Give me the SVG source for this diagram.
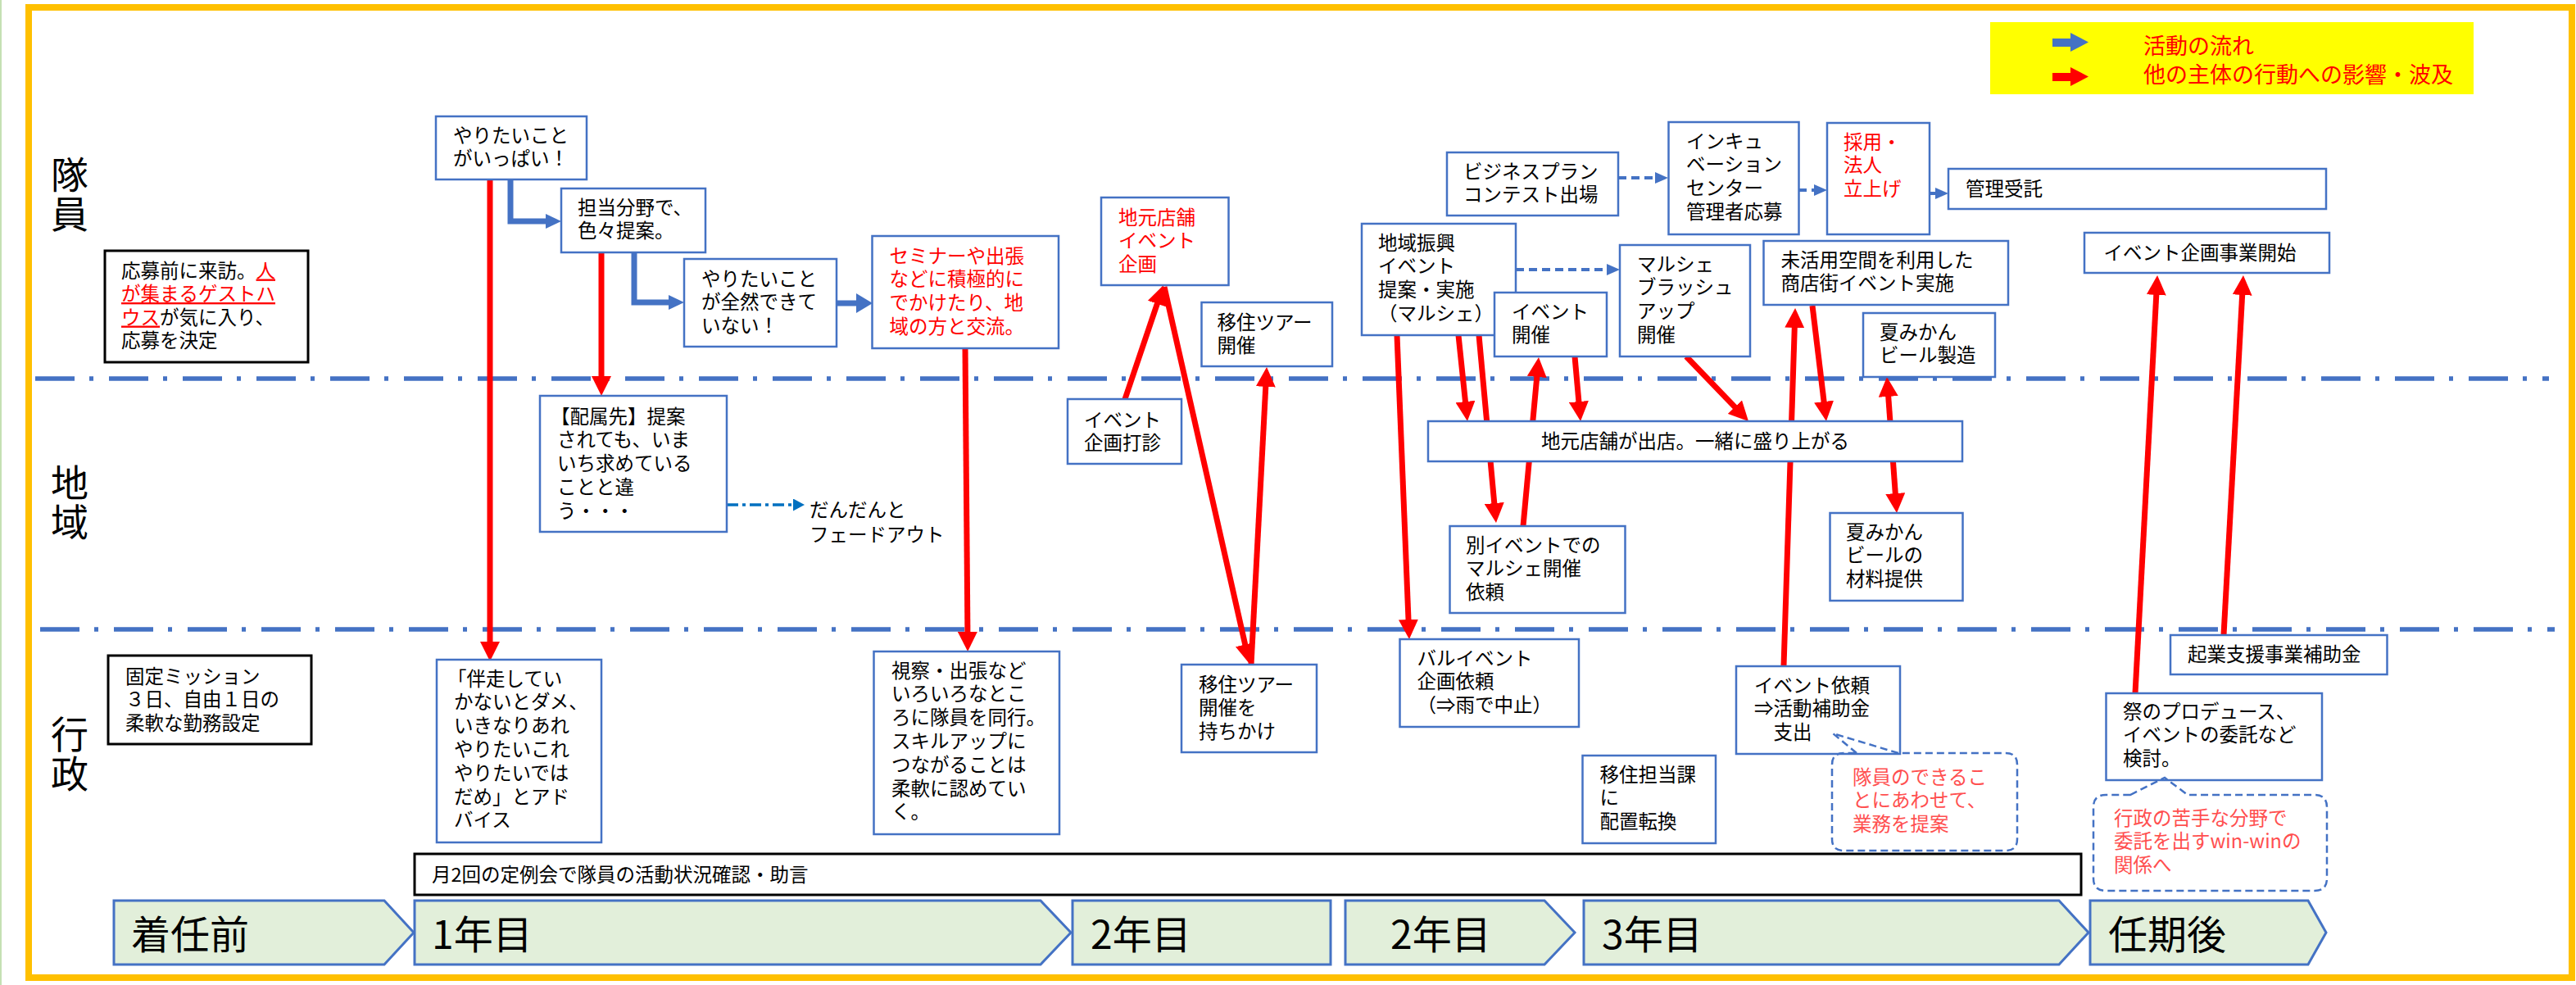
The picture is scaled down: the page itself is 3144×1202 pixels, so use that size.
<svg xmlns="http://www.w3.org/2000/svg" width="3144" height="1202" viewBox="0 0 3144 1202">
<style>
.t{font-family:"Noto Sans CJK JP","Noto Sans CJK SC",sans-serif;font-size:23.5px;fill:#000}
.rd{fill:#FF0000}
.cr{fill:#FF4F4F}
.big{font-family:"Noto Sans CJK JP","Noto Sans CJK SC",sans-serif;font-size:48px;fill:#000}
.lane{font-family:"Noto Sans CJK JP","Noto Sans CJK SC",sans-serif;font-size:46px;fill:#000;writing-mode:vertical-rl;letter-spacing:2px}
.leg{font-family:"Noto Sans CJK JP","Noto Sans CJK SC",sans-serif;font-size:27px;fill:#FF0000}
.box{fill:#fff;stroke:#4472C4;stroke-width:2.5}
.bbox{fill:#fff;stroke:#000;stroke-width:3}
.chev{fill:#E2EFDA;stroke:#4472C4;stroke-width:3}
.lanel{stroke:#4472C4;stroke-width:5.5;stroke-dasharray:48 18 5 19;fill:none}
.red{stroke:#FF0000;stroke-width:7;fill:none}
.blu{stroke:#4472C4;stroke-width:7;fill:none;stroke-linejoin:miter}
.dsh{stroke:#4472C4;stroke-width:4;stroke-dasharray:10 6;fill:none}
.call{fill:none;stroke:#4472C4;stroke-width:2.5;stroke-dasharray:9 5}
.ul{text-decoration:underline}
</style>
<defs>
<marker id="ra" markerUnits="userSpaceOnUse" markerWidth="24" markerHeight="24" viewBox="0 0 24 24" refX="10" refY="12" orient="auto-start-reverse"><path d="M0,0 L24,12 L0,24 z" fill="#FF0000"/></marker>
<marker id="ba" markerUnits="userSpaceOnUse" markerWidth="19" markerHeight="18" viewBox="0 0 19 18" refX="5" refY="9" orient="auto"><path d="M0,0 L19,9 L0,18 z" fill="#4472C4"/></marker>
<marker id="ba2" markerUnits="userSpaceOnUse" markerWidth="20" markerHeight="24" viewBox="0 0 20 24" refX="6" refY="12" orient="auto"><path d="M0,0 L20,12 L0,24 z" fill="#4472C4"/></marker>
<marker id="da" markerUnits="userSpaceOnUse" markerWidth="16" markerHeight="14" viewBox="0 0 16 14" refX="2" refY="7" orient="auto"><path d="M0,0 L16,7 L0,14 z" fill="#4472C4"/></marker>
<marker id="dda" markerUnits="userSpaceOnUse" markerWidth="14" markerHeight="15" viewBox="0 0 14 15" refX="2" refY="7.5" orient="auto"><path d="M0,0 L14,7.5 L0,15 z" fill="#0070C0"/></marker>
</defs>
<rect width="3144" height="1202" fill="#fff"/>
<line x1="1" y1="0" x2="1" y2="1202" stroke="#C5E0B4" stroke-width="2"/>
<rect x="35" y="9" width="3104" height="1184" fill="none" stroke="#FFC000" stroke-width="8"/>

<g id="lanes">
<line class="lanel" x1="43" y1="462" x2="3111" y2="462"/>
<line class="lanel" x1="49" y1="768" x2="3118" y2="768"/>
<text class="lane" x="85" y="190">隊員</text>
<text class="lane" x="85" y="566">地域</text>
<text class="lane" x="85" y="873">行政</text>
</g>

<g id="legend">
<rect x="2429" y="27" width="590" height="88" fill="#FFFF00"/>
<polygon points="2505,47 2527,47 2527,40 2549,51.5 2527,63 2527,57 2505,57" fill="#4472C4"/>
<polygon points="2505,89 2527,89 2527,82 2549,93.5 2527,105 2527,99 2505,99" fill="#FF0000"/>
<text class="leg" x="2616" y="66">活動の流れ</text>
<text class="leg" x="2616" y="101">他の主体の行動への影響・波及</text>
</g>

<g id="timeline">
<path class="chev" d="M139,1099 L469,1099 L505,1138 L469,1177 L139,1177 Z"/>
<text class="big" x="160" y="1158">着任前</text>
<path class="chev" d="M506,1099 L1270,1099 L1307,1138 L1270,1177 L506,1177 Z"/>
<text class="big" x="527" y="1158">1年目</text>
<rect class="chev" x="1309" y="1099" width="315" height="78"/>
<text class="big" x="1331" y="1158">2年目</text>
<path class="chev" d="M1642,1099 L1885,1099 L1922,1138 L1885,1177 L1642,1177 Z"/>
<text class="big" x="1697" y="1158">2年目</text>
<path class="chev" d="M1933,1099 L2513,1099 L2549,1138 L2513,1177 L1933,1177 Z"/>
<text class="big" x="1955" y="1158">3年目</text>
<path class="chev" d="M2551,1099 L2817,1099 L2839,1138 L2817,1177 L2551,1177 Z"/>
<text class="big" x="2573" y="1158">任期後</text>
</g>

<g id="meeting">
<rect class="bbox" x="506" y="1042" width="2034" height="50"/>
<text class="t" x="527" y="1075.5">月2回の定例会で隊員の活動状況確認・助言</text>
</g>

<g id="connectors">
<path class="blu" d="M623,219 V270 H671" marker-end="url(#ba)"/>
<path class="blu" d="M774,308 V369 H821" marker-end="url(#ba)"/>
<path class="blu" d="M1021,370 H1051" stroke-width="8" marker-end="url(#ba2)"/>
<line class="red" x1="598" y1="219" x2="598" y2="793" marker-end="url(#ra)"/>
<line class="red" x1="734" y1="308" x2="734" y2="469" marker-end="url(#ra)"/>
<line class="red" x1="1178" y1="425" x2="1181" y2="781" marker-end="url(#ra)"/>
<line class="red" x1="1373" y1="487" x2="1415.5" y2="361.3" marker-end="url(#ra)"/>
<line class="red" x1="1421" y1="350" x2="1521.9" y2="796.3" marker-end="url(#ra)"/>
<line class="red" x1="1527" y1="811" x2="1545.3" y2="462" marker-end="url(#ra)"/>
<line class="red" x1="1705" y1="409" x2="1719.4" y2="766" marker-end="url(#ra)"/>
<line class="red" x1="1780" y1="409" x2="1789.5" y2="500" marker-end="url(#ra)"/>
<line class="red" x1="1805" y1="409" x2="1824.7" y2="624" marker-end="url(#ra)"/>
<line class="red" x1="1859" y1="642" x2="1876.7" y2="450" marker-end="url(#ra)"/>
<line class="red" x1="1922" y1="435" x2="1927.8" y2="500" marker-end="url(#ra)"/>
<line class="red" x1="2058" y1="435" x2="2124.3" y2="503.9" marker-end="url(#ra)"/>
<line class="red" x1="2177" y1="813" x2="2190.6" y2="390" marker-end="url(#ra)"/>
<line class="red" x1="2212" y1="373" x2="2227.3" y2="500" marker-end="url(#ra)"/>
<line class="red" x1="2304" y1="474" x2="2314" y2="612" marker-start="url(#ra)" marker-end="url(#ra)"/>
<line class="red" x1="2606" y1="846" x2="2632.3" y2="350" marker-end="url(#ra)"/>
<line class="red" x1="2714" y1="775" x2="2737.2" y2="350" marker-end="url(#ra)"/>
<line class="dsh" x1="1975" y1="217" x2="2022" y2="217" marker-end="url(#da)"/>
<line class="dsh" x1="2195" y1="232" x2="2216" y2="232" marker-end="url(#da)"/>
<line class="dsh" x1="2355" y1="236" x2="2364" y2="236" marker-end="url(#da)"/>
<line class="dsh" x1="1850" y1="329" x2="1963" y2="329" marker-end="url(#da)"/>
<line x1="887" y1="616" x2="970" y2="616" stroke="#0070C0" stroke-width="3.5" stroke-dasharray="14 5 4 5" marker-end="url(#dda)"/>
</g>

<g id="n-e"><rect class="bbox" x="128" y="306" width="248" height="136"/>
<text class="t"><tspan x="148" y="338.5">応募前に来訪。<tspan class="rd ul">人</tspan></tspan><tspan x="148" y="367" class="rd ul">が集まるゲストハ</tspan><tspan x="148" y="395.5"><tspan class="rd ul">ウス</tspan>が気に入り、</tspan><tspan x="148" y="424">応募を決定</tspan></text></g>

<g id="n-a"><rect class="box" x="532" y="142" width="184" height="77"/>
<text class="t"><tspan x="553" y="173.5">やりたいこと</tspan><tspan x="553" y="202">がいっぱい！</tspan></text></g>

<g id="n-b"><rect class="box" x="685" y="230" width="176" height="78"/>
<text class="t"><tspan x="705" y="261.5">担当分野で、</tspan><tspan x="705" y="290.3">色々提案。</tspan></text></g>

<g id="n-c"><rect class="box" x="835" y="316" width="186" height="107"/>
<text class="t"><tspan x="856" y="348.5">やりたいこと</tspan><tspan x="856" y="377.3">が全然できて</tspan><tspan x="856" y="406.1">いない！</tspan></text></g>

<g id="n-d"><rect class="box" x="1064.5" y="288" width="227.5" height="137"/>
<text class="t rd"><tspan x="1085.5" y="320.5">セミナーや出張</tspan><tspan x="1085.5" y="349.3">などに積極的に</tspan><tspan x="1085.5" y="378.1">でかけたり、地</tspan><tspan x="1085.5" y="406.9">域の方と交流。</tspan></text></g>

<g id="n-f"><rect class="box" x="659" y="483" width="228" height="166"/>
<text class="t"><tspan x="672" y="516.5">【配属先】提案</tspan><tspan x="680" y="545.3">されても、いま</tspan><tspan x="680" y="574.1">いち求めている</tspan><tspan x="680" y="602.9">ことと違</tspan><tspan x="680" y="631.7">う・・・</tspan></text></g>

<g id="n-fade"><text class="t"><tspan x="988" y="630.5">だんだんと</tspan><tspan x="988" y="660.5">フェードアウト</tspan></text></g>

<g id="n-g"><rect class="bbox" x="132" y="800" width="248" height="108"/>
<text class="t"><tspan x="153" y="833.5">固定ミッション</tspan><tspan x="153" y="862.3">３日、自由１日の</tspan><tspan x="153" y="891.1">柔軟な勤務設定</tspan></text></g>

<g id="n-h"><rect class="box" x="533" y="805" width="201" height="223"/>
<text class="t"><tspan x="546" y="836.5">「伴走してい</tspan><tspan x="554" y="865.3">かないとダメ、</tspan><tspan x="554" y="894.1">いきなりあれ</tspan><tspan x="554" y="922.9">やりたいこれ</tspan><tspan x="554" y="951.7">やりたいでは</tspan><tspan x="554" y="980.5">だめ」とアド</tspan><tspan x="554" y="1009.3">バイス</tspan></text></g>

<g id="n-i"><rect class="box" x="1066.5" y="795" width="226.5" height="223"/>
<text class="t"><tspan x="1088" y="826.5">視察・出張など</tspan><tspan x="1088" y="855.3">いろいろなとこ</tspan><tspan x="1088" y="884.1">ろに隊員を同行。</tspan><tspan x="1088" y="912.9">スキルアップに</tspan><tspan x="1088" y="941.7">つながることは</tspan><tspan x="1088" y="970.5">柔軟に認めてい</tspan><tspan x="1088" y="999.3">く。</tspan></text></g>

<g id="n-j"><rect class="box" x="1344" y="241" width="155.5" height="107"/>
<text class="t rd"><tspan x="1365" y="273.5">地元店舗</tspan><tspan x="1365" y="302.3">イベント</tspan><tspan x="1365" y="331.1">企画</tspan></text></g>

<g id="n-k"><rect class="box" x="1466.5" y="369" width="159.5" height="78"/>
<text class="t"><tspan x="1485.5" y="401.5">移住ツアー</tspan><tspan x="1485.5" y="430.3">開催</tspan></text></g>

<g id="n-l"><rect class="box" x="1303" y="487" width="139" height="79"/>
<text class="t"><tspan x="1323" y="520.5">イベント</tspan><tspan x="1323" y="548.5">企画打診</tspan></text></g>

<g id="n-m"><rect class="box" x="1442" y="811" width="165" height="107"/>
<text class="t"><tspan x="1463" y="843.5">移住ツアー</tspan><tspan x="1463" y="872.3">開催を</tspan><tspan x="1463" y="901.1">持ちかけ</tspan></text></g>

<g id="n-n"><rect class="box" x="1766" y="186" width="209" height="77"/>
<text class="t"><tspan x="1786" y="217.5">ビジネスプラン</tspan><tspan x="1786" y="246.3">コンテスト出場</tspan></text></g>

<g id="n-o"><rect class="box" x="2036.5" y="149" width="159" height="137"/>
<text class="t"><tspan x="2058" y="180.5">インキュ</tspan><tspan x="2058" y="209.3">ベーション</tspan><tspan x="2058" y="238.1">センター</tspan><tspan x="2058" y="266.9">管理者応募</tspan></text></g>

<g id="n-p"><rect class="box" x="2230" y="150" width="125" height="136"/>
<text class="t rd"><tspan x="2250" y="181.5">採用・</tspan><tspan x="2250" y="210.3">法人</tspan><tspan x="2250" y="239.1">立上げ</tspan></text></g>

<g id="n-q"><rect class="box" x="2378" y="206" width="461" height="49"/>
<text class="t" x="2399" y="238.5">管理受託</text></g>

<g id="n-r"><rect class="box" x="1662" y="273" width="188" height="136"/>
<text class="t"><tspan x="1682" y="304.5">地域振興</tspan><tspan x="1682" y="333.3">イベント</tspan><tspan x="1682" y="362.1">提案・実施</tspan><tspan x="1682" y="390.9">（マルシェ）</tspan></text></g>

<g id="n-s"><rect class="box" x="1824" y="357" width="137" height="78"/>
<text class="t"><tspan x="1845" y="388.5">イベント</tspan><tspan x="1845" y="417.3">開催</tspan></text></g>

<g id="n-t"><rect class="box" x="1977" y="299" width="159" height="136"/>
<text class="t"><tspan x="1998" y="330.5">マルシェ</tspan><tspan x="1998" y="359.3">ブラッシュ</tspan><tspan x="1998" y="388.1">アップ</tspan><tspan x="1998" y="416.9">開催</tspan></text></g>

<g id="n-u"><rect class="box" x="2152.5" y="294" width="298.5" height="78"/>
<text class="t"><tspan x="2173.5" y="325.5">未活用空間を利用した</tspan><tspan x="2173.5" y="354.3">商店街イベント実施</tspan></text></g>

<g id="n-v"><rect class="box" x="2274" y="382" width="161" height="78"/>
<text class="t"><tspan x="2294" y="413.5">夏みかん</tspan><tspan x="2294" y="442.3">ビール製造</tspan></text></g>

<g id="n-w"><rect class="box" x="1743" y="514" width="652" height="49"/>
<text class="t" x="2069" y="546.5" text-anchor="middle">地元店舗が出店。一緒に盛り上がる</text></g>

<g id="n-x"><rect class="box" x="1769.5" y="642" width="214" height="106"/>
<text class="t"><tspan x="1789" y="673.5">別イベントでの</tspan><tspan x="1789" y="702.3">マルシェ開催</tspan><tspan x="1789" y="731.1">依頼</tspan></text></g>

<g id="n-y"><rect class="box" x="2233.5" y="626" width="162" height="107"/>
<text class="t"><tspan x="2253" y="657.5">夏みかん</tspan><tspan x="2253" y="686.3">ビールの</tspan><tspan x="2253" y="715.1">材料提供</tspan></text></g>

<g id="n-z"><rect class="box" x="1708.5" y="780" width="218.5" height="107"/>
<text class="t"><tspan x="1729.5" y="811.5">バルイベント</tspan><tspan x="1729.5" y="840.3">企画依頼</tspan><tspan x="1729.5" y="869.1">（⇒雨で中止）</tspan></text></g>

<g id="n-aa"><rect class="box" x="1931.5" y="922" width="162.5" height="107"/>
<text class="t"><tspan x="1952.5" y="953.5">移住担当課</tspan><tspan x="1952.5" y="982.3">に</tspan><tspan x="1952.5" y="1011.1">配置転換</tspan></text></g>

<g id="n-ab"><rect class="box" x="2119" y="813" width="200" height="107"/>
<text class="t"><tspan x="2141" y="844.5">イベント依頼</tspan><tspan x="2141" y="873.3">⇒活動補助金</tspan><tspan x="2141" y="902.1">　支出</tspan></text></g>

<g id="n-call1"><path class="call" d="M2266,919 L2237,895 L2317,919 L2448,919 Q2462,919 2462,933 L2462,1024 Q2462,1038 2448,1038 L2250,1038 Q2236,1038 2236,1024 L2236,933 Q2236,919 2250,919 Z"/>
<text class="t cr"><tspan x="2261" y="956.5">隊員のできるこ</tspan><tspan x="2261" y="985.3">とにあわせて、</tspan><tspan x="2261" y="1014.1">業務を提案</tspan></text></g>

<g id="n-ac"><rect class="box" x="2570.5" y="846" width="263.5" height="106"/>
<text class="t"><tspan x="2591" y="876.5">祭のプロデュース、</tspan><tspan x="2591" y="905.3">イベントの委託など</tspan><tspan x="2591" y="934.1">検討。</tspan></text></g>

<g id="n-call2"><path class="call" d="M2600,970 L2642,949 L2670,970 L2825,970 Q2840,970 2840,985 L2840,1072 Q2840,1087 2825,1087 L2570,1087 Q2555,1087 2555,1072 L2555,985 Q2555,970 2570,970 Z"/>
<text class="t cr"><tspan x="2580" y="1006.5">行政の苦手な分野で</tspan><tspan x="2580" y="1035.3">委託を出すwin-winの</tspan><tspan x="2580" y="1064.1">関係へ</tspan></text></g>

<g id="n-ad"><rect class="box" x="2544" y="284" width="299" height="49"/>
<text class="t" x="2567.5" y="316.5">イベント企画事業開始</text></g>

<g id="n-ae"><rect class="box" x="2649" y="775" width="264.5" height="48"/>
<text class="t" x="2670" y="806.5">起業支援事業補助金</text></g>
</svg>
